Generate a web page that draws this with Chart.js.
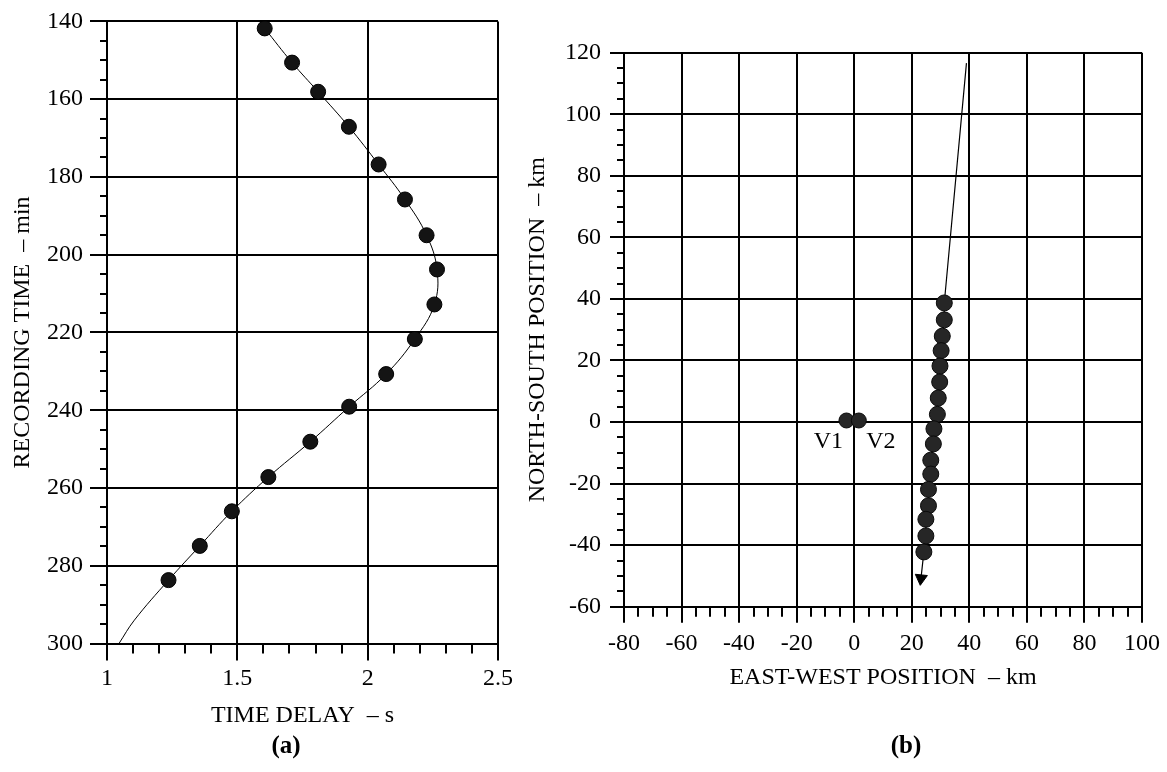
<!DOCTYPE html>
<html>
<head>
<meta charset="utf-8">
<title>Time delay and source position</title>
<script src="https://cdn.jsdelivr.net/npm/chart.js@4.4.1/dist/chart.umd.min.js"></script>
<style>
  html, body { margin: 0; padding: 0; background: #fff; }
  body { width: 1167px; height: 772px; position: relative; overflow: hidden;
         font-family: "Liberation Serif", "Times New Roman", serif; }
  .panel { position: absolute; top: 0; height: 772px; }
  #panel-a { left: 0; width: 520px; }
  #panel-b { left: 520px; width: 647px; }
  .tag { position: absolute; top: 731px; font-size: 25px; font-weight: bold;
         transform: translateX(-50%); color: #000; }
</style>
</head>
<body>
<div class="panel" id="panel-a"><canvas id="chart-a" width="520" height="772"></canvas></div>
<div class="panel" id="panel-b"><canvas id="chart-b" width="647" height="772"></canvas></div>
<div class="tag" style="left:286px">(a)</div>
<div class="tag" style="left:906px">(b)</div>
<script>
// (a) measured delay vs recording time
var delay = [1.605, 1.71, 1.81, 1.928, 2.042, 2.143, 2.226, 2.266, 2.256, 2.181, 2.071, 1.929, 1.78, 1.619, 1.479, 1.356, 1.236];
var recTime = [141.8, 150.6, 158.1, 167.1, 176.8, 185.8, 195.0, 203.8, 212.8, 221.7, 230.7, 239.1, 248.1, 257.2, 266.0, 274.9, 283.7];
// fitted curve continues below the last sample
var tailDelay = [1.105, 1.046];
var tailTime = [294, 300];
var delayTicks = [1, 1.5, 2, 2.5];
var delayTickLabels = ['1', '1.5', '2', '2.5'];
var timeTicks = [140, 160, 180, 200, 220, 240, 260, 280, 300];

// (b) source track, east-west / north-south in km
var trackStartEW = [39.0];
var trackStartNS = [116.6];
var posEW = [31.3, 31.3, 30.6, 30.2, 29.8, 29.7, 29.2, 28.9, 27.7, 27.5, 26.6, 26.6, 25.8, 25.8, 24.9, 24.9, 24.2];
var posNS = [38.7, 33.2, 27.9, 23.2, 18.2, 13.0, 7.8, 2.5, -2.2, -7.1, -12.4, -16.9, -21.9, -27.2, -31.6, -37.0, -42.2];
var arrowEW = [23.2];
var arrowNS = [-50.8];
var ventNames = ['V1', 'V2'];
var ventEW = [-2.7, 1.6];
var ventNS = [0.5, 0.5];
var ewTicks = [-80, -60, -40, -20, 0, 20, 40, 60, 80, 100];
var nsTicks = [-60, -40, -20, 0, 20, 40, 60, 80, 100, 120];

Chart.defaults.font.family = '"Liberation Serif", "Times New Roman", serif';
Chart.defaults.font.size = 24;
Chart.defaults.color = '#000';

function pts(xs, ys) {
  return xs.map(function (x, i) { return { x: x, y: ys[i] }; });
}

function fixedTicks(values) {
  return function (scale) {
    scale.ticks = values.map(function (v) { return { value: v }; });
  };
}

// short ticks between the labelled ones, drawn outside the plot frame
var minorTicks = {
  id: 'minorTicks',
  afterDraw: function (chart, args, opts) {
    var ctx = chart.ctx;
    ctx.save();
    ctx.strokeStyle = '#000';
    ctx.lineWidth = 2;
    ['x', 'y'].forEach(function (id) {
      var o = opts[id];
      if (!o) return;
      var s = chart.scales[id];
      var n = Math.round((s.max - s.min) / o.step);
      ctx.beginPath();
      for (var i = 0; i <= n; i++) {
        var p = Math.round(s.getPixelForValue(s.min + i * o.step));
        if (id === 'x') {
          ctx.moveTo(p, s.top);
          ctx.lineTo(p, s.top + o.len);
        } else {
          ctx.moveTo(s.right, p);
          ctx.lineTo(s.right - o.len, p);
        }
      }
      ctx.stroke();
    });
    ctx.restore();
  }
};

// V1 / V2 captions under the vent markers
var ventLabels = {
  id: 'ventLabels',
  afterDatasetsDraw: function (chart, args, opts) {
    if (!opts.dataset && opts.dataset !== 0) return;
    var meta = chart.getDatasetMeta(opts.dataset);
    var ctx = chart.ctx;
    ctx.save();
    ctx.font = '24px "Liberation Serif", "Times New Roman", serif';
    ctx.fillStyle = '#000';
    ctx.textAlign = 'center';
    ctx.textBaseline = 'middle';
    meta.data.forEach(function (pt, i) {
      ctx.fillText(opts.names[i], pt.x + opts.dx[i], pt.y + opts.dy);
    });
    ctx.restore();
  }
};

function gridOpts(len) {
  return { color: '#000', lineWidth: 2, tickLength: len, drawTicks: true };
}

var chartA = new Chart(document.getElementById('chart-a'), {
  type: 'scatter',
  data: {
    datasets: [{
      label: 'samples',
      data: pts(delay, recTime),
      pointRadius: 7.5,
      pointBackgroundColor: '#141414',
      pointBorderColor: '#000',
      pointBorderWidth: 1,
      showLine: false,
      order: 0
    }, {
      label: 'fit',
      data: pts(delay.concat(tailDelay), recTime.concat(tailTime)),
      showLine: true,
      pointRadius: 0,
      borderColor: '#000',
      borderWidth: 1,
      tension: 0.4,
      order: 1
    }]
  },
  options: {
    responsive: false,
    animation: false,
    devicePixelRatio: 1,
    layout: { padding: { top: 19.5, right: 22, bottom: 0, left: 0 } },
    plugins: {
      legend: { display: false },
      tooltip: { enabled: false },
      minorTicks: { x: { step: 0.1, len: 10 }, y: { step: 5, len: 7 } }
    },
    scales: {
      x: {
        type: 'linear', min: 1, max: 2.5,
        afterBuildTicks: fixedTicks(delayTicks),
        afterFit: function (s) { s.height = 128.5; },
        grid: gridOpts(17),
        border: { color: '#000', width: 2 },
        ticks: {
          padding: 4,
          callback: function (v, i) { return delayTickLabels[i]; }
        },
        title: { display: true, text: 'TIME DELAY  – s', font: { size: 24, lineHeight: 1 }, padding: { top: 0, bottom: 44 } }
      },
      y: {
        type: 'linear', min: 140, max: 300, reverse: true,
        afterBuildTicks: fixedTicks(timeTicks),
        afterFit: function (s) { s.width = 107; },
        grid: gridOpts(17),
        border: { color: '#000', width: 2 },
        ticks: { padding: 7 },
        title: { display: true, text: 'RECORDING TIME  – min', font: { size: 24, lineHeight: 1 }, padding: { top: 10.5, bottom: 0 } }
      }
    }
  },
  plugins: [minorTicks]
});

var chartB = new Chart(document.getElementById('chart-b'), {
  type: 'scatter',
  data: {
    datasets: [{
      label: 'positions',
      data: pts(posEW, posNS),
      pointRadius: 8,
      pointBackgroundColor: '#262626',
      pointBorderColor: '#0a0a0a',
      pointBorderWidth: 1,
      showLine: false,
      order: 0
    }, {
      label: 'vents',
      data: pts(ventEW, ventNS),
      pointRadius: 7.5,
      pointBackgroundColor: '#262626',
      pointBorderColor: '#0a0a0a',
      pointBorderWidth: 1,
      showLine: false,
      order: 0
    }, {
      label: 'track',
      data: pts(trackStartEW.concat(posEW, arrowEW), trackStartNS.concat(posNS, arrowNS)),
      showLine: true,
      pointRadius: 0,
      borderColor: '#000',
      borderWidth: 1.2,
      tension: 0,
      order: 1
    }, {
      label: 'direction',
      data: pts(arrowEW, arrowNS),
      pointStyle: 'triangle',
      rotation: 186,
      pointRadius: 7,
      pointBackgroundColor: '#000',
      pointBorderColor: '#000',
      pointBorderWidth: 1,
      pointHitRadius: 0,
      showLine: false,
      order: 0
    }]
  },
  options: {
    responsive: false,
    animation: false,
    devicePixelRatio: 1,
    layout: { padding: { top: 52.7, right: 23, bottom: 0, left: 0 } },
    plugins: {
      legend: { display: false },
      tooltip: { enabled: false },
      minorTicks: { x: { step: 5, len: 10 }, y: { step: 5, len: 7 } },
      ventLabels: { dataset: 1, names: ventNames, dx: [-18, 22], dy: 21 }
    },
    scales: {
      x: {
        type: 'linear', min: -80, max: 100,
        afterBuildTicks: fixedTicks(ewTicks),
        afterFit: function (s) { s.height = 165.3; },
        grid: gridOpts(16),
        border: { color: '#000', width: 2 },
        ticks: { padding: 7 },
        title: { display: true, text: 'EAST-WEST POSITION  – km', font: { size: 24, lineHeight: 1 }, padding: { top: 0, bottom: 82 } }
      },
      y: {
        type: 'linear', min: -60, max: 120,
        afterBuildTicks: fixedTicks(nsTicks),
        afterFit: function (s) { s.width = 104; },
        grid: gridOpts(14),
        border: { color: '#000', width: 2 },
        ticks: { padding: 9 },
        title: { display: true, text: 'NORTH-SOUTH POSITION  – km', font: { size: 24, lineHeight: 1 }, padding: { top: 6, bottom: 0 } }
      }
    }
  },
  plugins: [minorTicks, ventLabels]
});
</script>
</body>
</html>
